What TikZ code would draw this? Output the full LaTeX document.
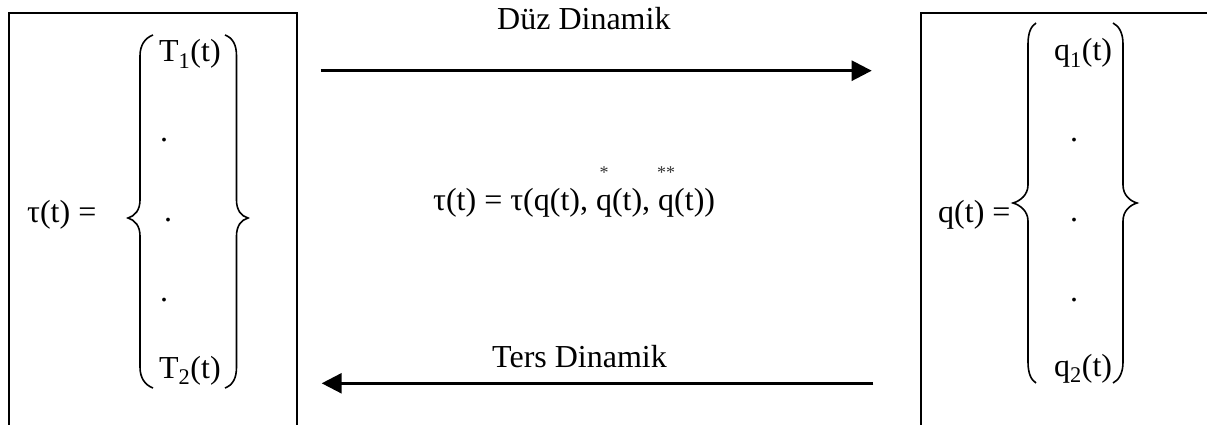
\documentclass[tikz,border=0pt]{standalone}
\usepackage{fontspec}
\setmainfont{Liberation Serif}
\usetikzlibrary{arrows.meta}
\tikzset{
  txt/.style={anchor=base west, inner sep=0pt, font=\fontsize{32}{38}\selectfont},
  boxline/.style={line width=1.8pt},
  bracel/.style={line width=1.6pt},
  flow/.style={line width=2.6pt, -{Triangle[length=20pt,width=20pt]}},
}
\newcommand\starabove[1]{\rlap{\makebox[16pt]{\raisebox{32pt}{\fontsize{18}{18}\selectfont\color{gray!40!black}#1}}}q}
\begin{document}
\begin{tikzpicture}[x=1pt,y=-1pt]
\useasboundingbox (0,0) rectangle (1207,425);
% boxes
\draw[boxline] (9,426) -- (9,12.7) -- (297,12.7) -- (297,426);
\draw[boxline] (920.7,426) -- (920.7,12.7) -- (1208,12.7);
% left vector
\node[txt] (tauL) at (27,222) {τ(t) =};
\draw[bracel] (153,35) .. controls (145,38) and (140,45) .. (140,56) -- (140,200) .. controls (140,210) and (135,216) .. (128,218) .. controls (135,220) and (140,226) .. (140,236) -- (140,367) .. controls (140,378) and (145,385) .. (153,388);
\draw[bracel] (225,35) .. controls (233,38) and (236.5,45) .. (236.5,56) -- (236.5,200) .. controls (236.5,210) and (241,216) .. (248,218) .. controls (241,220) and (236.5,226) .. (236.5,236) -- (236.5,367) .. controls (236.5,378) and (233,385) .. (225,388);
\node[txt] (T1) at (159,62) {T\textsubscript{1}(t)};
\node[txt] (d1) at (160,142) {.};
\node[txt] (d2) at (164,221) {.};
\node[txt] (d3) at (160,301) {.};
\node[txt] (T2) at (159,378) {T\textsubscript{2}(t)};
% right vector
\node[txt] (qL) at (938,222) {q(t) =};
\draw[bracel] (1036,23) .. controls (1031,26) and (1028,33) .. (1028,44) -- (1028,185) .. controls (1028,195) and (1020,201) .. (1013,203) .. controls (1020,205) and (1028,211) .. (1028,221) -- (1028,362) .. controls (1028,373) and (1031,380) .. (1036,383);
\draw[bracel] (1113,23) .. controls (1119,26) and (1123,33) .. (1123,44) -- (1123,185) .. controls (1123,195) and (1130,201) .. (1137,203) .. controls (1130,205) and (1123,211) .. (1123,221) -- (1123,362) .. controls (1123,373) and (1119,380) .. (1113,383);
\node[txt] (q1) at (1054,61) {q\textsubscript{1}(t)};
\node[txt] (e1) at (1070,142) {.};
\node[txt] (e2) at (1070,221) {.};
\node[txt] (e3) at (1070,301) {.};
\node[txt] (q2) at (1054,376) {q\textsubscript{2}(t)};
% middle
\node[txt] (duz) at (497,30) {Düz Dinamik};
\node[txt] (ters) at (492,367) {Ters Dinamik};
\node[txt] (eq) at (433,210) {τ(t) = τ(q(t), \starabove{*}(t), \starabove{**}(t))};
\coordinate (a1s) at (320.7,70.7);
\coordinate (a1e) at (871.7,70.7);
\coordinate (a2s) at (873.3,383.3);
\coordinate (a2e) at (321.7,383.3);
\draw[flow] (a1s) -- (a1e);
\draw[flow] (a2s) -- (a2e);
\end{tikzpicture}
\end{document}
